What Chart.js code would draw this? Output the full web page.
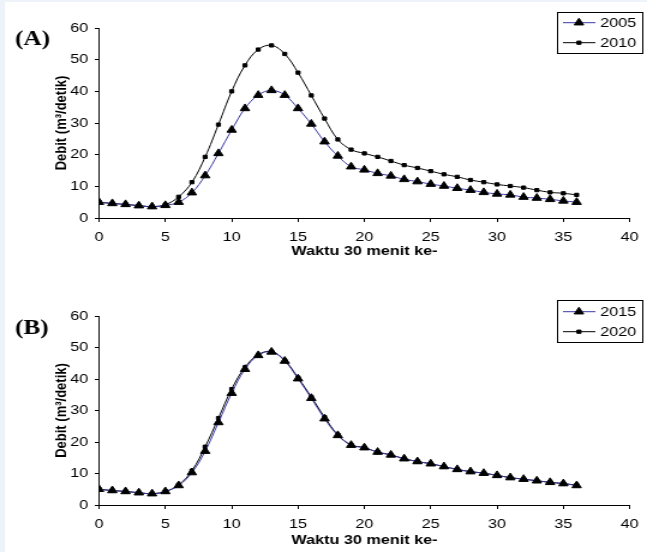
<!DOCTYPE html>
<html>
<head>
<meta charset="utf-8">
<script src="https://cdn.jsdelivr.net/npm/chart.js@4.4.0/dist/chart.umd.min.js"></script>
<style>
  html, body { margin: 0; padding: 0; background: #eef3f9; overflow: hidden; }
  #paper { position: absolute; left: 5px; top: 2px; width: 642px; height: 550px; background: #fff; }
  canvas { position: absolute; left: 0; }
</style>
</head>
<body>
<div id="paper"></div>
<!-- gambar aslinya sedikit melebar ke samping, jadi kanvas digambar lebih sempit lalu ditarik lewat CSS -->
<canvas id="chartA" width="539" height="276" style="top:0;width:647px;height:276px"></canvas>
<canvas id="chartB" width="539" height="276" style="top:276px;width:647px;height:276px"></canvas>
<script>
// data debit per langkah waktu (30 menit)
const waktu = [0, 1, 2, 3, 4, 5, 6, 7, 8, 9, 10, 11, 12, 13, 14, 15, 16, 17, 18,
  19, 20, 21, 22, 23, 24, 25, 26, 27, 28, 29, 30, 31, 32, 33, 34, 35, 36];

const debit2005 = [5.0, 4.6, 4.3, 3.9, 3.6, 4.0, 5.0, 8.0, 13.4, 20.4, 27.8, 34.6, 38.8,
  40.3, 38.8, 34.6, 29.7, 24.1, 19.6, 16.2, 15.2, 14.1, 13.3, 12.2, 11.5, 10.7, 10.1,
  9.4, 8.8, 8.1, 7.6, 7.3, 6.6, 6.3, 5.9, 5.4, 5.0];
const debit2010 = [5.0, 4.6, 4.3, 3.9, 3.6, 4.2, 6.7, 11.3, 19.3, 29.5, 40.0, 48.2, 53.2,
  54.5, 51.8, 45.9, 38.7, 31.4, 24.8, 21.6, 20.4, 19.3, 18.0, 16.7, 15.8, 14.8, 13.8,
  13.0, 12.0, 11.3, 10.6, 10.1, 9.6, 8.8, 8.1, 7.8, 7.3];
const debit2015 = [5.0, 4.6, 4.3, 3.9, 3.6, 4.3, 6.2, 10.3, 17.1, 26.2, 35.5, 43.1, 47.5,
  48.6, 45.7, 40.1, 33.9, 27.4, 22.1, 19.0, 18.2, 16.8, 15.9, 14.7, 13.8, 13.1, 12.2,
  11.3, 10.6, 10.1, 9.4, 8.7, 8.2, 7.7, 7.2, 6.8, 6.2];
const debit2020 = [5.0, 4.6, 4.3, 3.9, 3.6, 4.3, 6.4, 10.9, 18.5, 27.6, 36.8, 43.7, 47.7,
  48.7, 45.9, 40.4, 34.3, 27.9, 22.3, 19.1, 18.2, 16.8, 15.9, 14.7, 13.8, 13.1, 12.2,
  11.3, 10.6, 10.1, 9.4, 8.7, 8.2, 7.7, 7.2, 6.8, 6.3];

const xMin = 0, xMax = 40, xStep = 5;
const yMin = 0, yMax = 60, yStep = 10;

const FONT = '"Liberation Sans", Arial, sans-serif';
const BIRU = '#3a3aa6';
const HITAM = '#000000';

// label panel (A)/(B) dan kotak legenda digambar sendiri
const panelDecor = {
  id: 'panelDecor',
  afterDraw(chart, args, opts) {
    const ctx = chart.ctx;
    ctx.save();
    ctx.fillStyle = '#000';
    ctx.textBaseline = 'middle';
    ctx.textAlign = 'left';
    ctx.font = 'bold 21px "Liberation Serif", "Times New Roman", serif';
    ctx.fillText(opts.tag, opts.tagX, opts.tagY);

    const lb = opts.box;
    ctx.fillStyle = '#fff';
    ctx.fillRect(lb.x, lb.y, lb.w, lb.h);
    ctx.strokeStyle = '#000';
    ctx.lineWidth = 1;
    ctx.strokeRect(lb.x + 0.5, lb.y + 0.5, lb.w, lb.h);

    ctx.font = '13.5px ' + FONT;
    chart.data.datasets.forEach((ds, i) => {
      const y = lb.y + opts.rowTop + i * opts.rowGap;
      ctx.strokeStyle = ds.borderColor;
      ctx.lineWidth = 1;
      ctx.beginPath();
      ctx.moveTo(lb.x + 5, y);
      ctx.lineTo(lb.x + 32, y);
      ctx.stroke();
      ctx.fillStyle = '#000';
      ctx.strokeStyle = '#000';
      Chart.helpers.drawPoint(ctx, { pointStyle: ds.pointStyle, radius: ds.pointRadius, borderWidth: 1, rotation: 0 }, lb.x + 18.3, y);
      ctx.fillText(ds.label, lb.x + 36, y + 0.5);
    });
    ctx.restore();
  }
};

function seri(label, values, warna, bentuk, r) {
  return {
    label: label,
    data: waktu.map((w, i) => ({ x: w, y: values[i] })),
    borderColor: warna,
    borderWidth: 1,
    backgroundColor: '#000',
    pointBackgroundColor: '#000',
    pointBorderColor: '#000',
    pointBorderWidth: 1,
    pointStyle: bentuk,
    pointRadius: r,
    tension: 0.4,
    fill: false
  };
}

function buatGrafik(id, tag, datasets, lay) {
  const ctx = document.getElementById(id).getContext('2d');
  return new Chart(ctx, {
    type: 'line',
    data: { datasets: datasets },
    options: {
      responsive: false,
      maintainAspectRatio: false,
      devicePixelRatio: 1,
      animation: false,
      layout: { padding: { top: lay.top, right: 10.8, left: 0, bottom: 0 } },
      plugins: {
        legend: { display: false },
        tooltip: { enabled: false },
        panelDecor: {
          tag: tag, tagX: 12.5, tagY: lay.tagY,
          box: lay.box, rowTop: lay.rowTop, rowGap: 20
        }
      },
      scales: {
        x: {
          type: 'linear',
          min: xMin, max: xMax,
          ticks: { stepSize: xStep, color: '#000', padding: 6.9, maxRotation: 0,
            font: { family: FONT, size: 13.5 } },
          grid: { drawOnChartArea: false, drawTicks: true, tickLength: 4, color: '#000' },
          border: { display: true, color: '#000', width: 1 },
          title: { display: true, text: 'Waktu 30 menit ke-', color: '#000',
            font: { family: FONT, size: 13.5, weight: 'bold' },
            padding: { top: 0, bottom: lay.titlePad } },
          afterFit: s => { s.height = lay.xHeight; }
        },
        y: {
          min: yMin, max: yMax,
          ticks: { stepSize: yStep, color: '#000', padding: 5.5,
            font: { family: FONT, size: 13.5 } },
          grid: { drawOnChartArea: false, drawTicks: true, tickLength: 3.5, color: '#000' },
          border: { display: true, color: '#000', width: 1 },
          title: { display: true, text: 'Debit (m³/detik)', color: '#000',
            font: { family: FONT, size: 13, weight: 'bold' },
            padding: { top: 44, bottom: 0 } },
          afterFit: s => { s.width = 82.5; }
        }
      }
    },
    plugins: [panelDecor]
  });
}

buatGrafik('chartA', '(A)', [
  seri('2005', debit2005, BIRU, 'triangle', 4.5),
  seri('2010', debit2010, HITAM, 'rect', 2.3)
], { top: 28, xHeight: 58, titlePad: 16.9, tagY: 40,
     box: { x: 464, y: 12, w: 71, h: 41 }, rowTop: 10.7 });

buatGrafik('chartB', '(B)', [
  seri('2015', debit2015, BIRU, 'triangle', 4.5),
  seri('2020', debit2020, HITAM, 'rect', 2.3)
], { top: 40, xHeight: 47, titlePad: 3.9, tagY: 53,
     box: { x: 464, y: 24, w: 71, h: 42 }, rowTop: 11.7 });
</script>
</body>
</html>
